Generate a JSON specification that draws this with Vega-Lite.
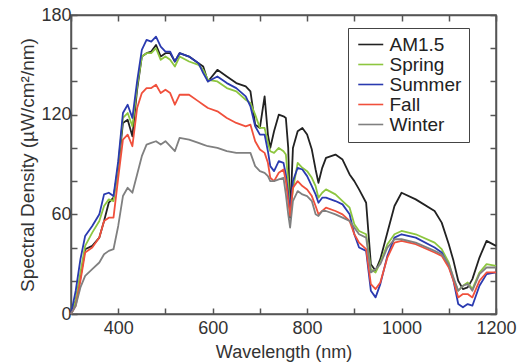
{
"$schema": "https://vega.github.io/schema/vega-lite/v6.json",
"width": 425, "height": 299,
"autosize": "none",
"padding": {"left": 71, "top": 15, "right": 25, "bottom": 50},
"background": "white",
"data": {"values": [
{"w":300,"s":"AM1.5","v":0},{"w":310,"s":"AM1.5","v":8},{"w":320,"s":"AM1.5","v":22},{"w":330,"s":"AM1.5","v":39},{"w":345,"s":"AM1.5","v":41},{"w":360,"s":"AM1.5","v":46},{"w":370,"s":"AM1.5","v":56},{"w":380,"s":"AM1.5","v":67},{"w":390,"s":"AM1.5","v":70},{"w":400,"s":"AM1.5","v":88},
{"w":410,"s":"AM1.5","v":115},{"w":420,"s":"AM1.5","v":117},{"w":430,"s":"AM1.5","v":107},{"w":440,"s":"AM1.5","v":135},{"w":450,"s":"AM1.5","v":155},{"w":460,"s":"AM1.5","v":157},{"w":470,"s":"AM1.5","v":158},{"w":480,"s":"AM1.5","v":162},{"w":490,"s":"AM1.5","v":155},{"w":500,"s":"AM1.5","v":157},
{"w":510,"s":"AM1.5","v":157},{"w":520,"s":"AM1.5","v":152},{"w":530,"s":"AM1.5","v":157},{"w":550,"s":"AM1.5","v":155},{"w":570,"s":"AM1.5","v":151},{"w":580,"s":"AM1.5","v":149},{"w":590,"s":"AM1.5","v":140},{"w":610,"s":"AM1.5","v":147},{"w":630,"s":"AM1.5","v":143},{"w":650,"s":"AM1.5","v":139},
{"w":670,"s":"AM1.5","v":137},{"w":680,"s":"AM1.5","v":134},{"w":690,"s":"AM1.5","v":114},{"w":700,"s":"AM1.5","v":112},{"w":710,"s":"AM1.5","v":131},{"w":717,"s":"AM1.5","v":108},{"w":722,"s":"AM1.5","v":100},{"w":730,"s":"AM1.5","v":110},{"w":740,"s":"AM1.5","v":120},{"w":750,"s":"AM1.5","v":119},
{"w":755,"s":"AM1.5","v":118},{"w":760,"s":"AM1.5","v":100},{"w":764,"s":"AM1.5","v":58},{"w":770,"s":"AM1.5","v":100},{"w":780,"s":"AM1.5","v":110},{"w":790,"s":"AM1.5","v":112},{"w":800,"s":"AM1.5","v":108},{"w":810,"s":"AM1.5","v":99},{"w":818,"s":"AM1.5","v":87},{"w":824,"s":"AM1.5","v":79},
{"w":832,"s":"AM1.5","v":88},{"w":840,"s":"AM1.5","v":94},{"w":860,"s":"AM1.5","v":96},{"w":875,"s":"AM1.5","v":93},{"w":890,"s":"AM1.5","v":84},{"w":900,"s":"AM1.5","v":80},{"w":910,"s":"AM1.5","v":75},{"w":925,"s":"AM1.5","v":67},{"w":935,"s":"AM1.5","v":30},{"w":945,"s":"AM1.5","v":26},
{"w":955,"s":"AM1.5","v":33},{"w":970,"s":"AM1.5","v":49},{"w":985,"s":"AM1.5","v":65},{"w":1000,"s":"AM1.5","v":73},{"w":1030,"s":"AM1.5","v":69},{"w":1070,"s":"AM1.5","v":62},{"w":1085,"s":"AM1.5","v":55},{"w":1100,"s":"AM1.5","v":42},{"w":1110,"s":"AM1.5","v":32},{"w":1120,"s":"AM1.5","v":20},
{"w":1130,"s":"AM1.5","v":15},{"w":1140,"s":"AM1.5","v":16},{"w":1150,"s":"AM1.5","v":21},{"w":1165,"s":"AM1.5","v":34},{"w":1180,"s":"AM1.5","v":44},{"w":1200,"s":"AM1.5","v":41},

{"w":300,"s":"Spring","v":0},{"w":310,"s":"Spring","v":8},{"w":320,"s":"Spring","v":25},{"w":330,"s":"Spring","v":41},{"w":345,"s":"Spring","v":49},{"w":360,"s":"Spring","v":56},{"w":370,"s":"Spring","v":65},{"w":380,"s":"Spring","v":69},{"w":390,"s":"Spring","v":68},{"w":400,"s":"Spring","v":90},
{"w":410,"s":"Spring","v":118},{"w":420,"s":"Spring","v":121},{"w":430,"s":"Spring","v":113},{"w":440,"s":"Spring","v":137},{"w":450,"s":"Spring","v":155},{"w":460,"s":"Spring","v":157},{"w":470,"s":"Spring","v":157},{"w":480,"s":"Spring","v":160},{"w":490,"s":"Spring","v":153},{"w":500,"s":"Spring","v":155},
{"w":510,"s":"Spring","v":153},{"w":520,"s":"Spring","v":149},{"w":530,"s":"Spring","v":155},{"w":550,"s":"Spring","v":152},{"w":570,"s":"Spring","v":150},{"w":580,"s":"Spring","v":147},{"w":590,"s":"Spring","v":141},{"w":610,"s":"Spring","v":140},{"w":630,"s":"Spring","v":136},{"w":650,"s":"Spring","v":134},
{"w":670,"s":"Spring","v":129},{"w":680,"s":"Spring","v":127},{"w":690,"s":"Spring","v":120},{"w":700,"s":"Spring","v":112},{"w":710,"s":"Spring","v":112},{"w":717,"s":"Spring","v":103},{"w":722,"s":"Spring","v":98},{"w":730,"s":"Spring","v":97},{"w":740,"s":"Spring","v":100},{"w":750,"s":"Spring","v":98},
{"w":755,"s":"Spring","v":96},{"w":760,"s":"Spring","v":80},{"w":764,"s":"Spring","v":60},{"w":770,"s":"Spring","v":75},{"w":780,"s":"Spring","v":91},{"w":790,"s":"Spring","v":88},{"w":800,"s":"Spring","v":86},{"w":810,"s":"Spring","v":82},{"w":818,"s":"Spring","v":77},{"w":824,"s":"Spring","v":70},
{"w":832,"s":"Spring","v":73},{"w":840,"s":"Spring","v":75},{"w":860,"s":"Spring","v":72},{"w":875,"s":"Spring","v":68},{"w":890,"s":"Spring","v":64},{"w":900,"s":"Spring","v":54},{"w":910,"s":"Spring","v":50},{"w":925,"s":"Spring","v":48},{"w":935,"s":"Spring","v":27},{"w":945,"s":"Spring","v":25},
{"w":955,"s":"Spring","v":31},{"w":970,"s":"Spring","v":42},{"w":985,"s":"Spring","v":48},{"w":1000,"s":"Spring","v":50},{"w":1030,"s":"Spring","v":48},{"w":1070,"s":"Spring","v":43},{"w":1085,"s":"Spring","v":39},{"w":1100,"s":"Spring","v":31},{"w":1110,"s":"Spring","v":21},{"w":1120,"s":"Spring","v":14},
{"w":1130,"s":"Spring","v":17},{"w":1140,"s":"Spring","v":19},{"w":1150,"s":"Spring","v":15},{"w":1165,"s":"Spring","v":25},{"w":1180,"s":"Spring","v":30},{"w":1200,"s":"Spring","v":29},

{"w":300,"s":"Summer","v":0},{"w":310,"s":"Summer","v":14},{"w":320,"s":"Summer","v":33},{"w":330,"s":"Summer","v":47},{"w":345,"s":"Summer","v":53},{"w":360,"s":"Summer","v":60},{"w":370,"s":"Summer","v":72},{"w":380,"s":"Summer","v":73},{"w":390,"s":"Summer","v":71},{"w":400,"s":"Summer","v":92},
{"w":410,"s":"Summer","v":121},{"w":420,"s":"Summer","v":126},{"w":430,"s":"Summer","v":118},{"w":440,"s":"Summer","v":140},{"w":450,"s":"Summer","v":159},{"w":460,"s":"Summer","v":165},{"w":470,"s":"Summer","v":164},{"w":480,"s":"Summer","v":167},{"w":490,"s":"Summer","v":161},{"w":500,"s":"Summer","v":158},
{"w":510,"s":"Summer","v":158},{"w":520,"s":"Summer","v":152},{"w":530,"s":"Summer","v":157},{"w":550,"s":"Summer","v":155},{"w":570,"s":"Summer","v":151},{"w":580,"s":"Summer","v":145},{"w":590,"s":"Summer","v":140},{"w":610,"s":"Summer","v":143},{"w":630,"s":"Summer","v":139},{"w":650,"s":"Summer","v":136},
{"w":670,"s":"Summer","v":131},{"w":680,"s":"Summer","v":125},{"w":690,"s":"Summer","v":113},{"w":700,"s":"Summer","v":108},{"w":710,"s":"Summer","v":108},{"w":717,"s":"Summer","v":98},{"w":722,"s":"Summer","v":89},{"w":730,"s":"Summer","v":86},{"w":740,"s":"Summer","v":92},{"w":750,"s":"Summer","v":91},
{"w":755,"s":"Summer","v":84},{"w":760,"s":"Summer","v":72},{"w":764,"s":"Summer","v":62},{"w":770,"s":"Summer","v":80},{"w":780,"s":"Summer","v":88},{"w":790,"s":"Summer","v":87},{"w":800,"s":"Summer","v":83},{"w":810,"s":"Summer","v":77},{"w":818,"s":"Summer","v":72},{"w":824,"s":"Summer","v":67},
{"w":832,"s":"Summer","v":70},{"w":840,"s":"Summer","v":70},{"w":860,"s":"Summer","v":68},{"w":875,"s":"Summer","v":66},{"w":890,"s":"Summer","v":60},{"w":900,"s":"Summer","v":48},{"w":910,"s":"Summer","v":40},{"w":925,"s":"Summer","v":38},{"w":935,"s":"Summer","v":14},{"w":945,"s":"Summer","v":10},
{"w":955,"s":"Summer","v":18},{"w":970,"s":"Summer","v":35},{"w":985,"s":"Summer","v":46},{"w":1000,"s":"Summer","v":48},{"w":1030,"s":"Summer","v":46},{"w":1070,"s":"Summer","v":40},{"w":1085,"s":"Summer","v":37},{"w":1100,"s":"Summer","v":29},{"w":1110,"s":"Summer","v":20},{"w":1120,"s":"Summer","v":6},
{"w":1130,"s":"Summer","v":4},{"w":1140,"s":"Summer","v":6},{"w":1150,"s":"Summer","v":5},{"w":1165,"s":"Summer","v":17},{"w":1180,"s":"Summer","v":24},{"w":1200,"s":"Summer","v":25},

{"w":300,"s":"Fall","v":0},{"w":310,"s":"Fall","v":5},{"w":320,"s":"Fall","v":20},{"w":330,"s":"Fall","v":37},{"w":345,"s":"Fall","v":40},{"w":360,"s":"Fall","v":46},{"w":370,"s":"Fall","v":56},{"w":380,"s":"Fall","v":58},{"w":390,"s":"Fall","v":58},{"w":400,"s":"Fall","v":82},
{"w":410,"s":"Fall","v":105},{"w":420,"s":"Fall","v":108},{"w":430,"s":"Fall","v":101},{"w":440,"s":"Fall","v":124},{"w":450,"s":"Fall","v":133},{"w":460,"s":"Fall","v":136},{"w":470,"s":"Fall","v":136},{"w":480,"s":"Fall","v":138},{"w":490,"s":"Fall","v":133},{"w":500,"s":"Fall","v":135},
{"w":510,"s":"Fall","v":133},{"w":520,"s":"Fall","v":126},{"w":530,"s":"Fall","v":132},{"w":550,"s":"Fall","v":132},{"w":570,"s":"Fall","v":128},{"w":580,"s":"Fall","v":126},{"w":590,"s":"Fall","v":124},{"w":610,"s":"Fall","v":122},{"w":630,"s":"Fall","v":118},{"w":650,"s":"Fall","v":115},
{"w":670,"s":"Fall","v":113},{"w":680,"s":"Fall","v":114},{"w":690,"s":"Fall","v":104},{"w":700,"s":"Fall","v":99},{"w":710,"s":"Fall","v":97},{"w":717,"s":"Fall","v":91},{"w":722,"s":"Fall","v":82},{"w":730,"s":"Fall","v":80},{"w":740,"s":"Fall","v":85},{"w":750,"s":"Fall","v":87},
{"w":755,"s":"Fall","v":80},{"w":760,"s":"Fall","v":68},{"w":764,"s":"Fall","v":59},{"w":770,"s":"Fall","v":76},{"w":780,"s":"Fall","v":80},{"w":790,"s":"Fall","v":77},{"w":800,"s":"Fall","v":75},{"w":810,"s":"Fall","v":71},{"w":818,"s":"Fall","v":65},{"w":824,"s":"Fall","v":60},
{"w":832,"s":"Fall","v":62},{"w":840,"s":"Fall","v":64},{"w":860,"s":"Fall","v":62},{"w":875,"s":"Fall","v":60},{"w":890,"s":"Fall","v":56},{"w":900,"s":"Fall","v":48},{"w":910,"s":"Fall","v":43},{"w":925,"s":"Fall","v":39},{"w":935,"s":"Fall","v":18},{"w":945,"s":"Fall","v":15},
{"w":955,"s":"Fall","v":19},{"w":970,"s":"Fall","v":34},{"w":985,"s":"Fall","v":43},{"w":1000,"s":"Fall","v":44},{"w":1030,"s":"Fall","v":42},{"w":1070,"s":"Fall","v":37},{"w":1085,"s":"Fall","v":35},{"w":1100,"s":"Fall","v":28},{"w":1110,"s":"Fall","v":20},{"w":1120,"s":"Fall","v":10},
{"w":1130,"s":"Fall","v":12},{"w":1140,"s":"Fall","v":12},{"w":1150,"s":"Fall","v":10},{"w":1165,"s":"Fall","v":20},{"w":1180,"s":"Fall","v":25},{"w":1200,"s":"Fall","v":25},

{"w":300,"s":"Winter","v":0},{"w":310,"s":"Winter","v":5},{"w":320,"s":"Winter","v":16},{"w":330,"s":"Winter","v":23},{"w":345,"s":"Winter","v":27},{"w":360,"s":"Winter","v":31},{"w":370,"s":"Winter","v":36},{"w":380,"s":"Winter","v":38},{"w":390,"s":"Winter","v":39},{"w":400,"s":"Winter","v":53},
{"w":410,"s":"Winter","v":71},{"w":420,"s":"Winter","v":76},{"w":430,"s":"Winter","v":73},{"w":440,"s":"Winter","v":84},{"w":450,"s":"Winter","v":95},{"w":460,"s":"Winter","v":102},{"w":470,"s":"Winter","v":103},{"w":480,"s":"Winter","v":104},{"w":490,"s":"Winter","v":102},{"w":500,"s":"Winter","v":104},
{"w":510,"s":"Winter","v":101},{"w":520,"s":"Winter","v":98},{"w":530,"s":"Winter","v":106},{"w":550,"s":"Winter","v":105},{"w":570,"s":"Winter","v":103},{"w":580,"s":"Winter","v":102},{"w":590,"s":"Winter","v":101},{"w":610,"s":"Winter","v":100},{"w":630,"s":"Winter","v":98},{"w":650,"s":"Winter","v":97},
{"w":670,"s":"Winter","v":97},{"w":680,"s":"Winter","v":97},{"w":690,"s":"Winter","v":89},{"w":700,"s":"Winter","v":86},{"w":710,"s":"Winter","v":85},{"w":717,"s":"Winter","v":83},{"w":722,"s":"Winter","v":80},{"w":730,"s":"Winter","v":80},{"w":740,"s":"Winter","v":81},{"w":750,"s":"Winter","v":82},
{"w":755,"s":"Winter","v":72},{"w":760,"s":"Winter","v":60},{"w":764,"s":"Winter","v":52},{"w":770,"s":"Winter","v":68},{"w":780,"s":"Winter","v":74},{"w":790,"s":"Winter","v":72},{"w":800,"s":"Winter","v":71},{"w":810,"s":"Winter","v":68},{"w":818,"s":"Winter","v":60},{"w":824,"s":"Winter","v":59},
{"w":832,"s":"Winter","v":62},{"w":840,"s":"Winter","v":62},{"w":860,"s":"Winter","v":60},{"w":875,"s":"Winter","v":58},{"w":890,"s":"Winter","v":56},{"w":900,"s":"Winter","v":52},{"w":910,"s":"Winter","v":48},{"w":925,"s":"Winter","v":46},{"w":935,"s":"Winter","v":25},{"w":945,"s":"Winter","v":27},
{"w":955,"s":"Winter","v":30},{"w":970,"s":"Winter","v":40},{"w":985,"s":"Winter","v":45},{"w":1000,"s":"Winter","v":45},{"w":1030,"s":"Winter","v":43},{"w":1070,"s":"Winter","v":38},{"w":1085,"s":"Winter","v":36},{"w":1100,"s":"Winter","v":30},{"w":1110,"s":"Winter","v":22},{"w":1120,"s":"Winter","v":14},
{"w":1130,"s":"Winter","v":17},{"w":1140,"s":"Winter","v":18},{"w":1150,"s":"Winter","v":14},{"w":1165,"s":"Winter","v":24},{"w":1180,"s":"Winter","v":28},{"w":1200,"s":"Winter","v":28}
]},
"layer": [
 {
  "mark": {"type": "line", "opacity": 0},
  "encoding": {
   "x": {"field": "w", "type": "quantitative", "scale": {"domain": [300, 1200], "nice": false, "zero": false},
     "axis": {"orient": "top", "values": [300,400,500,600,700,800,900,1000,1100,1200], "labels": false, "title": null}},
   "y": {"field": "v", "type": "quantitative", "scale": {"domain": [0, 180], "nice": false},
     "axis": {"orient": "right", "values": [0,20,40,60,80,100,120,140,160,180], "labels": false, "title": null}},
   "detail": {"field": "s", "type": "nominal"}
  }
 },
 {
  "mark": {"type": "line", "strokeWidth": 1.8, "strokeJoin": "round"},
  "encoding": {
   "x": {"field": "w", "type": "quantitative", "scale": {"domain": [300, 1200], "nice": false, "zero": false},
     "axis": {"orient": "bottom", "values": [300,400,500,600,700,800,900,1000,1100,1200], "format": "d",
       "labelExpr": "datum.value % 200 == 0 ? datum.label : ''", "labelPadding": 11,
       "title": "Wavelength (nm)", "titleY": 43, "titleBaseline": "alphabetic"}},
   "y": {"field": "v", "type": "quantitative", "scale": {"domain": [0, 180], "nice": false},
     "axis": {"orient": "left", "values": [0,20,40,60,80,100,120,140,160,180], "format": "d",
       "labelExpr": "datum.value % 60 == 0 ? datum.label : ''",
       "title": "Spectral Density (µW/cm²/nm)", "titleFontSize": 19, "titleX": -38, "titleBaseline": "alphabetic"}},
   "color": {"field": "s", "type": "nominal",
     "scale": {"domain": ["AM1.5", "Spring", "Summer", "Fall", "Winter"], "range": ["#222222", "#8dc63f", "#2a3ab0", "#f0503c", "#808080"]},
     "legend": {"title": null, "orient": "none", "legendX": 277, "legendY": 13, "direction": "vertical",
       "fillColor": "white", "strokeColor": "#444", "padding": 7,
       "symbolType": "M-1,0H3", "symbolSize": 156.25, "symbolStrokeWidth": 1.6,
       "labelFont": "Liberation Sans", "labelFontSize": 19, "labelColor": "#222", "labelOffset": 15.5, "rowPadding": 0}}
  }
 }
],
"resolve": {"axis": {"x": "independent", "y": "independent"}},
"config": {
  "view": {"stroke": "#555", "strokeWidth": 1.5},
  "axis": {"grid": false, "domainColor": "#555", "domainWidth": 1.5, "tickColor": "#555", "tickWidth": 1.5, "tickSize": -6,
    "labelFlush": false, "labelOverlap": false,
    "labelFont": "Liberation Sans", "labelFontSize": 18, "labelColor": "#333", "labelPadding": 6,
    "titleFont": "Liberation Sans", "titleFontSize": 18, "titleFontWeight": "normal", "titleColor": "#333"}
}
}
